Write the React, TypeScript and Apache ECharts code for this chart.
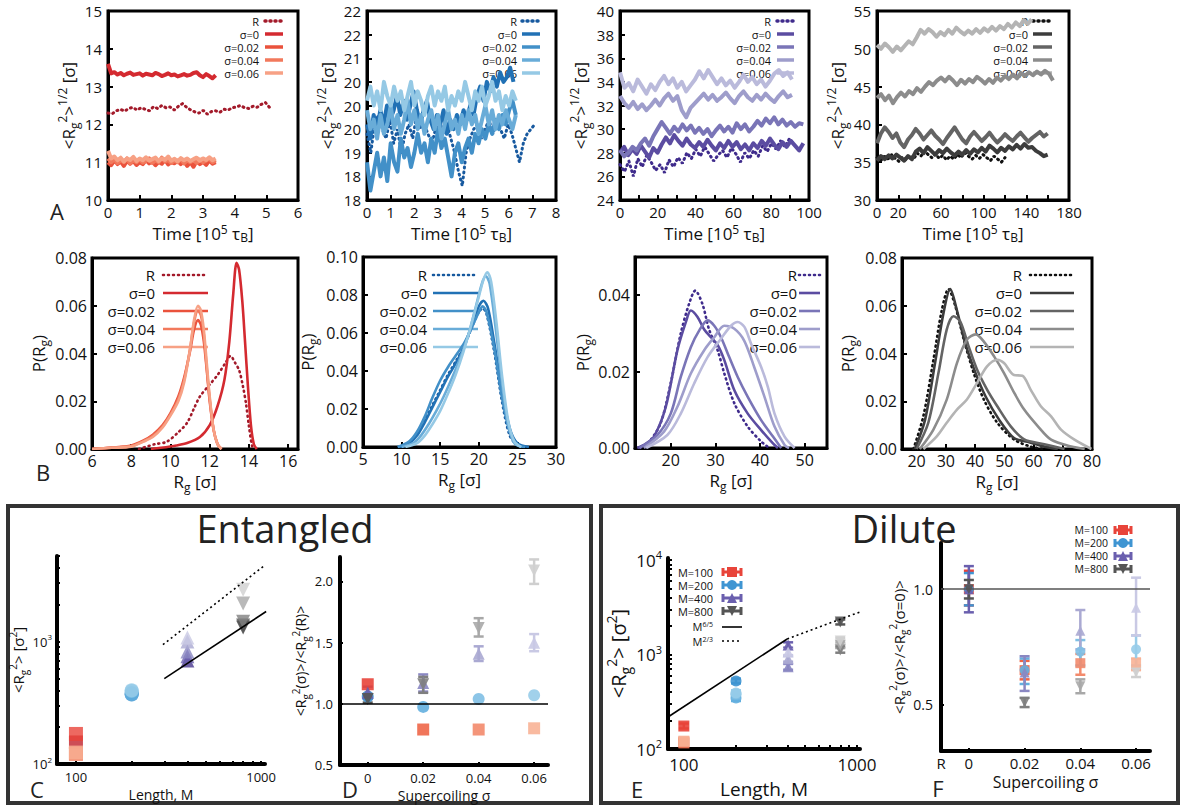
import React, { useEffect, useRef } from 'react';
import * as echarts from 'echarts';

const FONT = "'Open Sans', 'DejaVu Sans', sans-serif";
const TXT = '#111';

// ---------------- labels ----------------
const seriesLabels = ['R', 'σ=0', 'σ=0.02', 'σ=0.04', 'σ=0.06'];
const mLabels = ['M=100', 'M=200', 'M=400', 'M=800'];
const powerLabels = ['M{sup|6/5}', 'M{sup|2/3}'];

// ---------------- palettes ----------------
const redPal = ['#a31a2a', '#d42a30', '#ea523c', '#f2795c', '#f7a185'];
const bluePal = ['#17599f', '#2171b5', '#4290c8', '#69acd8', '#95c9e5'];
const purplePal = ['#3f2b8c', '#5b4ca1', '#7a75b7', '#9e9dcb', '#babadb'];
const grayPal = ['#111111', '#3c3c3c', '#646464', '#8c8c8c', '#b4b4b4'];
const cRed = ['#c0222c', '#e8443a', '#ee6648', '#f38a6c', '#f8b296'];
const cBlue = ['#2a7cc0', '#3f95d2', '#63afdf', '#7fbfe4', '#97cce9'];
const cPurple = ['#4a3890', '#6a5fae', '#8a87c2', '#aaa9d2', '#c9c9e4'];
const cGray = ['#3a3a3a', '#555555', '#7f7f7f', '#a8a8a8', '#cfcfcf'];

// ---------------- Row A : time series ----------------
const a1TEnd = [5.1, 3.4, 3.4, 3.4, 3.4];
const a1R = [12.3, 12.28, 12.36, 12.4, 12.35, 12.42, 12.45, 12.38, 12.44, 12.4, 12.36, 12.47, 12.42, 12.5, 12.44, 12.46, 12.38, 12.48, 12.55, 12.45, 12.38, 12.33, 12.3, 12.37, 12.27, 12.34, 12.36, 12.32, 12.4, 12.38, 12.44, 12.46, 12.5, 12.44, 12.42, 12.48, 12.45, 12.53, 12.58, 12.45];
const a1S0 = [13.6, 13.35, 13.38, 13.32, 13.36, 13.3, 13.34, 13.37, 13.31, 13.33, 13.35, 13.29, 13.34, 13.32, 13.3, 13.36, 13.33, 13.28, 13.31, 13.35, 13.3, 13.32, 13.27, 13.3, 13.33, 13.29, 13.31, 13.36, 13.38, 13.3, 13.25, 13.33, 13.28, 13.22, 13.3];
const a1S2 = [11.0, 10.92, 11.05, 10.95, 11.02, 10.9, 11.04, 10.96, 11.03, 10.93, 11.0, 10.95, 11.06, 10.97, 11.02, 10.92, 11.01, 10.96, 11.07, 10.94, 11.0, 10.97, 11.04, 10.95, 11.02, 10.9, 11.0, 10.88, 11.03, 10.95, 11.01, 10.93, 11.05, 10.96, 11.0];
const a1S4 = [11.1, 11.0, 11.08, 10.98, 11.06, 11.0, 11.1, 10.97, 11.05, 11.0, 11.08, 10.99, 11.04, 11.1, 10.98, 11.05, 11.0, 11.12, 11.02, 11.06, 10.98, 11.04, 11.0, 11.09, 10.97, 11.05, 11.0, 11.06, 10.98, 11.07, 11.0, 11.04, 11.1, 11.0, 11.05];
const a1S6 = [11.3, 11.1, 11.15, 11.05, 11.12, 11.02, 11.1, 11.06, 11.14, 11.03, 11.1, 11.05, 11.13, 11.04, 11.08, 11.12, 11.03, 11.1, 11.06, 11.15, 11.04, 11.09, 11.02, 11.11, 11.05, 11.1, 11.03, 11.08, 11.12, 11.04, 11.1, 11.06, 11.13, 11.05, 11.1];

const a2TEnd = [7.1, 6.2, 6.3, 6.3, 6.3];
const a2R = [19.4, 19.0, 19.6, 19.8, 19.5, 19.3, 19.7, 19.2, 19.5, 19.0, 19.4, 19.6, 19.3, 19.8, 19.5, 19.6, 19.4, 19.2, 19.5, 19.7, 19.4, 19.6, 19.3, 19.0, 18.6, 18.3, 19.0, 19.3, 19.5, 19.6, 19.3, 19.5, 19.7, 19.4, 19.6, 19.5, 19.3, 19.6, 19.4, 19.1, 18.8, 19.2, 19.4, 19.5, 19.6];
const a2S0 = [19.6, 19.3, 19.8, 19.5, 19.9, 19.6, 20.0, 19.7, 19.9, 20.2, 19.8, 20.1, 19.7, 20.0, 20.3, 19.9, 19.6, 19.9, 20.1, 19.7, 19.5, 19.8, 19.6, 19.9, 19.4, 19.7, 19.5, 19.8, 19.6, 19.9, 19.7, 20.0, 19.8, 20.2, 20.4, 20.1, 20.5, 20.3, 20.6, 20.4, 20.7, 20.5, 20.6, 20.8, 20.5];
const a2S2 = [18.8, 18.2, 18.6, 19.0, 18.5, 18.9, 18.4, 19.2, 18.8, 18.6, 19.3, 18.9, 19.1, 18.7, 19.0, 19.4, 19.0, 19.2, 18.8, 19.3, 19.0, 19.5, 19.1, 19.3, 18.9, 18.5, 19.0, 19.2, 18.8, 19.1, 19.3, 19.0, 19.4, 19.2, 19.5, 19.3, 19.6, 19.4, 19.7, 19.5, 19.8, 19.6, 19.9, 20.1, 19.8];
const a2S4 = [19.9, 19.5, 19.7, 19.3, 19.8, 19.4, 19.6, 20.0, 19.5, 19.8, 19.4, 19.7, 20.1, 19.6, 19.9, 19.5, 19.8, 19.4, 19.7, 19.9, 19.5, 19.8, 19.3, 19.6, 19.9, 19.5, 19.7, 19.4, 19.8, 19.5, 19.9, 19.6, 19.8, 19.4, 19.7, 20.0, 19.6, 19.9, 19.5, 19.8, 19.6, 19.9, 19.7, 19.5, 19.8];
const a2S6 = [20.1, 20.4, 20.0, 20.3, 19.9, 20.5, 20.2, 20.0, 20.4, 20.1, 20.3, 19.9, 20.2, 20.5, 20.0, 20.3, 20.1, 19.8, 20.2, 20.4, 20.0, 20.3, 20.1, 20.4, 19.9, 20.2, 20.0, 20.3, 20.1, 20.5, 20.2, 19.9, 20.3, 20.1, 20.4, 20.0, 20.2, 20.5, 20.1, 20.3, 19.9, 20.2, 20.0, 20.3, 20.1];

const a3TEnd = [92, 97, 97, 91, 91];
const a3R = [27.0, 26.4, 27.3, 26.0, 27.5, 26.8, 27.8, 27.2, 26.5, 27.0, 26.3, 27.4, 26.8, 27.6, 27.1, 28.0, 27.5, 28.3, 27.7, 28.5, 27.9, 27.3, 27.8, 28.2, 27.6, 28.4, 27.9, 27.2, 28.0, 27.5, 28.2, 27.7, 28.6, 28.1, 28.8, 28.3, 29.0, 28.5, 29.2, 28.7];
const a3S0 = [28.0, 28.5, 27.8, 28.3, 27.9, 28.6, 28.1, 27.6, 28.4, 28.0, 28.7, 29.3, 28.8, 29.5, 29.0, 28.6, 29.2, 28.7, 28.4, 28.9, 28.5, 29.1, 28.6, 28.2, 28.8, 28.4, 29.0, 28.5, 28.9, 28.3, 28.7, 28.2, 28.8, 28.4, 29.0, 28.6, 29.2, 28.7, 28.3, 28.9, 28.5, 29.0, 28.6, 28.2, 28.8];
const a3S2 = [28.2, 27.7, 28.0, 28.5, 28.2, 28.8, 29.2, 28.6, 29.4, 30.0, 30.6, 30.1, 29.6, 30.2, 29.8, 30.4, 29.9, 30.3, 29.7, 30.1, 29.6, 30.0, 29.4, 29.9, 30.3, 29.8, 30.2, 29.7, 30.5, 30.0, 30.4, 29.8, 30.2, 30.7, 30.3, 30.9, 30.5, 31.0, 30.4, 30.8, 30.3, 30.6, 30.2, 30.5, 30.4];
const a3S4 = [32.8, 32.2, 31.8, 32.3, 31.7, 32.1, 31.6, 32.0, 32.5, 32.0, 32.6, 33.0, 32.4, 32.8, 31.6, 31.0, 31.8, 32.2, 32.6, 33.0, 32.5, 32.9, 32.4, 32.7, 33.1, 32.6, 32.2, 32.8, 33.2, 32.7, 32.4, 32.9, 32.5, 33.0, 32.6, 32.3, 32.8, 33.2, 32.7, 32.9];
const a3S6 = [34.8, 33.5, 33.9, 33.2, 34.2, 33.6, 33.0, 33.8, 33.3, 34.0, 34.5, 33.8, 34.3, 33.5, 34.0, 33.2, 33.7, 34.2, 34.9, 34.3, 35.0, 34.4, 33.8, 34.3, 33.7, 34.1, 33.5, 34.0, 34.6, 34.0, 34.4, 33.8, 34.2, 33.6, 34.1, 34.7, 35.0, 34.5, 34.8, 34.2];

const a4TEnd = [120, 160, 160, 165, 145];
const a4R = [35.6, 35.2, 35.8, 35.4, 36.0, 35.5, 35.1, 35.7, 35.3, 35.9, 35.4, 36.2, 35.8, 36.5, 36.0, 35.6, 36.1, 35.5, 35.9, 35.3, 35.8, 35.4, 36.0, 35.6, 36.3, 35.8, 35.4, 35.9, 35.5, 36.0, 35.6, 35.2, 35.8, 35.4, 35.0, 35.6];
const a4S0 = [35.2, 35.8, 35.4, 35.9, 35.5, 36.0, 35.6, 35.2, 35.8, 35.4, 36.4, 36.8, 36.2, 37.0, 36.5, 36.0, 36.6, 36.2, 36.8, 36.3, 35.9, 36.4, 36.0, 36.6, 36.1, 36.7, 36.3, 36.9, 36.4, 37.2, 36.8, 36.3, 36.9, 36.5, 37.1, 36.7, 37.3, 36.8, 37.4, 36.9, 37.0, 36.5, 36.2, 35.8, 36.0];
const a4S2 = [37.5, 38.8, 39.6, 39.0, 38.2, 38.8, 37.6, 37.0, 38.0, 38.6, 39.4, 38.8, 38.0, 38.6, 39.2, 38.5, 38.0, 37.4, 38.2, 38.9, 39.6, 38.8, 38.0, 37.5, 38.4, 39.0, 38.4, 37.8, 38.3, 38.9, 38.2, 37.6, 38.1, 38.7, 38.2, 37.8, 38.4, 38.9, 38.3, 37.7, 38.2, 38.6, 39.0, 38.4, 38.8];
const a4S4 = [43.5, 44.0, 43.2, 43.8, 42.8, 43.6, 44.2, 43.7, 44.4, 44.0, 44.8, 44.3, 45.0, 45.6, 45.2, 45.8, 46.2, 45.7, 46.3, 45.8, 45.2, 45.9, 45.4, 46.0, 45.6, 46.3, 45.9, 45.4, 46.0, 45.5, 46.2, 45.8, 46.4, 46.0, 46.6, 46.1, 46.8, 46.4, 46.9, 46.5, 47.0, 46.6, 47.1, 46.7, 45.8];
const a4S6 = [50.5, 50.0, 50.7, 50.2, 49.6, 50.3, 49.8, 50.4, 51.0, 50.6, 51.5, 52.5, 52.0, 52.6, 52.2, 51.6, 52.2, 51.8, 52.5, 52.0, 52.8, 52.3, 51.9, 52.4, 52.0, 52.6, 52.1, 52.7, 52.3, 52.9, 52.4, 53.0, 52.6, 53.3, 52.8, 53.5, 53.0, 53.8, 53.3, 53.9];

const a2YTickLabels = ['18', '18', '19', '20', '20', '20', '21', '22', '22'];
const a3XTickLabels = ['0', '', '20', '', '40', '', '60', '', '80', '', '100'];
const a4XTickLabels = ['0', '20', '', '60', '', '100', '', '140', '', '180'];

// ---------------- Row B : distributions ----------------
const b1R = [[8.4, 0], [9.2, 0.002], [9.8, 0.003], [10.4, 0.007], [10.85, 0.011], [11.2, 0.017], [11.5, 0.022], [12.0, 0.027], [12.4, 0.031], [12.8, 0.036], [13.06, 0.039], [13.3, 0.036], [13.5, 0.033], [13.7, 0.026], [13.85, 0.019], [14.0, 0.0095], [14.17, 0.001], [14.3, 0]];
const b1S0 = [[9.0, 0], [9.5, 0.0005], [10.3, 0.0015], [10.85, 0.0025], [11.5, 0.005], [12.0, 0.01], [12.4, 0.018], [12.75, 0.029], [13.0, 0.045], [13.2, 0.065], [13.37, 0.078], [13.5, 0.075], [13.66, 0.062], [13.8, 0.045], [13.95, 0.026], [14.1, 0.01], [14.25, 0.002], [14.4, 0]];
const b1S2 = [[6.0, 0], [7.0, 0.0006], [8.0, 0.0015], [8.6, 0.0035], [9.1, 0.006], [9.6, 0.01], [10.0, 0.015], [10.4, 0.022], [10.7, 0.03], [11.0, 0.041], [11.2, 0.05], [11.4, 0.054], [11.55, 0.052], [11.7, 0.045], [11.85, 0.033], [12.0, 0.02], [12.2, 0.008], [12.4, 0.002], [12.6, 0]];
const b1S4 = [[6.0, 0], [7.0, 0.0005], [8.0, 0.0012], [8.6, 0.0032], [9.1, 0.0055], [9.6, 0.0095], [10.0, 0.0145], [10.4, 0.021], [10.7, 0.029], [11.0, 0.042], [11.2, 0.053], [11.4, 0.058], [11.55, 0.056], [11.7, 0.048], [11.85, 0.034], [12.0, 0.021], [12.2, 0.008], [12.4, 0.002], [12.6, 0]];
const b1S6 = [[6.0, 0], [7.0, 0.0005], [8.0, 0.001], [8.6, 0.003], [9.1, 0.005], [9.6, 0.009], [10.0, 0.014], [10.4, 0.02], [10.7, 0.028], [11.0, 0.042], [11.2, 0.054], [11.4, 0.06], [11.55, 0.058], [11.7, 0.05], [11.85, 0.036], [12.0, 0.022], [12.2, 0.008], [12.4, 0.002], [12.6, 0]];

const b2R = [[10, 0], [11, 0.002], [12, 0.007], [13, 0.014], [14, 0.022], [15, 0.03], [16, 0.038], [17, 0.045], [18, 0.052], [19, 0.062], [20, 0.071], [20.5, 0.073], [21, 0.07], [22, 0.05], [23, 0.024], [24, 0.006], [25, 0.001], [26, 0]];
const b2S0 = [[9.5, 0], [11, 0.002], [12, 0.006], [13, 0.013], [14, 0.021], [15, 0.029], [16, 0.037], [17, 0.044], [18, 0.052], [19, 0.063], [20, 0.074], [20.6, 0.077], [21.2, 0.073], [22, 0.055], [23, 0.03], [24, 0.01], [25, 0.002], [26.5, 0]];
const b2S2 = [[9.5, 0], [11, 0.003], [12, 0.008], [13, 0.016], [14, 0.026], [15, 0.035], [16, 0.042], [17, 0.048], [18, 0.054], [19, 0.062], [20, 0.071], [20.5, 0.074], [21, 0.071], [22, 0.052], [23, 0.026], [24, 0.008], [25, 0.001], [26, 0]];
const b2S4 = [[10, 0], [11.5, 0.002], [12.5, 0.006], [13.5, 0.012], [14.5, 0.019], [15.5, 0.027], [16.5, 0.036], [17.5, 0.046], [18.5, 0.057], [19.5, 0.072], [20.4, 0.086], [20.9, 0.09], [21.4, 0.086], [22.2, 0.062], [23, 0.034], [23.8, 0.012], [24.6, 0.002], [25.5, 0]];
const b2S6 = [[10.5, 0], [12, 0.002], [13, 0.006], [14, 0.012], [15, 0.019], [16, 0.028], [17, 0.038], [18, 0.05], [19, 0.064], [20, 0.079], [20.6, 0.088], [21.1, 0.092], [21.6, 0.087], [22.3, 0.065], [23, 0.038], [23.8, 0.014], [24.6, 0.003], [25.5, 0]];

const b3R = [[13, 0], [14.75, 0.001], [17.7, 0.0064], [20, 0.017], [22.25, 0.03], [24.1, 0.0377], [25.5, 0.0412], [27.1, 0.0377], [28.6, 0.031], [30.5, 0.0256], [32, 0.0195], [34.25, 0.0117], [37.25, 0.0056], [40.25, 0.0017], [42.1, 0]];
const b3S0 = [[12.5, 0], [14, 0.0008], [16.25, 0.003], [18.9, 0.0108], [21.5, 0.0256], [23.4, 0.033], [24.5, 0.036], [26, 0.0343], [27.5, 0.031], [29, 0.029], [30.5, 0.027], [32, 0.023], [34.25, 0.0151], [37.25, 0.009], [40.25, 0.0047], [42.9, 0.0012], [44, 0]];
const b3S2 = [[13, 0], [17, 0.0034], [20, 0.009], [22.25, 0.0186], [24.5, 0.0264], [26.4, 0.0308], [28.25, 0.0334], [29.75, 0.032], [31.25, 0.029], [33.1, 0.0238], [35, 0.0186], [37.25, 0.0134], [40.25, 0.0073], [42.9, 0.003], [44.75, 0]];
const b3S4 = [[14, 0], [18.5, 0.0043], [21.5, 0.0108], [24.5, 0.0195], [27.5, 0.0256], [29.75, 0.029], [32, 0.032], [34.25, 0.0312], [36.5, 0.028], [38.75, 0.021], [41, 0.0134], [43.25, 0.0056], [45.5, 0.0008], [46.5, 0]];
const b3S6 = [[14.5, 0], [19.25, 0.0034], [22.25, 0.009], [25.25, 0.0169], [28.25, 0.0238], [31.25, 0.0286], [33.5, 0.032], [35, 0.033], [36.5, 0.0317], [38, 0.0273], [40.25, 0.0212], [41.75, 0.016], [43.25, 0.009], [45.5, 0.003], [47.75, 0]];

const b4R = [[18.9, 0], [22.3, 0.0137], [25.7, 0.037], [28.6, 0.058], [30.9, 0.067], [33.2, 0.06], [36.1, 0.046], [39.5, 0.032], [43, 0.0207], [47.6, 0.011], [53.3, 0.004], [59, 0.001], [63.7, 0]];
const b4S0 = [[19.4, 0], [22.9, 0.0123], [26.3, 0.036], [29.2, 0.057], [31.5, 0.067], [33.8, 0.058], [36.7, 0.044], [40.1, 0.032], [43.6, 0.022], [48.2, 0.0123], [53.3, 0.0046], [58, 0.003], [63.7, 0.001], [68.3, 0]];
const b4S2 = [[20, 0], [24, 0.011], [27.5, 0.032], [30.3, 0.05], [32.6, 0.0556], [34.9, 0.0535], [37.8, 0.043], [40.7, 0.0332], [44.1, 0.0249], [47.6, 0.0179], [52.2, 0.0095], [56.8, 0.004], [63.7, 0.002], [70.6, 0]];
const b4S4 = [[21.1, 0], [25.7, 0.008], [30.3, 0.0207], [33.8, 0.036], [37.2, 0.0458], [40.2, 0.048], [43, 0.045], [46.5, 0.0388], [49.9, 0.0318], [53.4, 0.0235], [56.8, 0.0165], [61.5, 0.0095], [66, 0.0039], [72.9, 0.001], [77.5, 0]];
const b4S6 = [[22.3, 0], [26.9, 0.0053], [30.3, 0.011], [33.8, 0.0165], [37.2, 0.0207], [40.7, 0.0277], [44.1, 0.0346], [47.6, 0.0374], [49.9, 0.036], [53.3, 0.031], [56.2, 0.0307], [59, 0.0249], [62.5, 0.0179], [66, 0.0137], [69.4, 0.0081], [74, 0.0039], [79.8, 0]];

// ---------------- C : entangled, <Rg^2> vs M ----------------
const cM = [100, 200, 400, 800];
const cM100 = [150, 176, 122, 121, 124];
const cM200 = [372, 380, 370, 395, 400];
const cM400 = [700, 760, 830, 1000, 1080];
const cM800 = [1300, 1350, 1450, 2050, 2650];
const cSolid = [[300, 498], [1065, 1760]];
const cDotted = [[295, 944], [1030, 4120]];

// ---------------- D : entangled ratio vs sigma ----------------
const sigmaVals = [0, 0.02, 0.04, 0.06];
const dM100 = [1.16, 0.79, 0.79, 0.8];
const dM200 = [1.06, 0.975, 1.04, 1.07];
const dM400 = [1.09, 1.17, 1.41, 1.5];
const dM800 = [1.04, 1.16, 1.62, 2.09];
const dM400Err = [[1.04, 1.14], [1.1, 1.24], [1.35, 1.47], [1.43, 1.57]];
const dM800Err = [[1.01, 1.08], [1.09, 1.22], [1.55, 1.7], [1.98, 2.18]];
const dRefLevel = 1.0;

// ---------------- E : dilute, <Rg^2> vs M ----------------
const eM100 = [175, 116, 119, 121];
const eM200 = [525, 346, 380, 392];
const eM400 = [1260, 740, 900, 1060];
const eM800 = [2210, 1117, 1250, 1390];
const eM100Err = [[165, 186], [108, 124], [112, 127], [113, 129]];
const eM200Err = [[495, 556], [322, 370], [355, 405], [366, 418]];
const eM400Err = [[1180, 1345], [690, 795], [840, 965], [985, 1140]];
const eM800Err = [[2080, 2345], [1045, 1195], [1170, 1335], [1300, 1485]];
const eSolid = [[81, 218], [395, 1460]];
const eDotted = [[395, 1460], [1040, 2820]];

// ---------------- F : dilute ratio vs sigma ----------------
const fM100 = [1.0, 0.65, 0.68, 0.68];
const fM200 = [1.0, 0.65, 0.73, 0.74];
const fM400 = [1.0, 0.64, 0.82, 0.92];
const fM800 = [1.0, 0.51, 0.58, 0.64];
const fM100Err = [[0.93, 1.08], [0.61, 0.69], [0.63, 0.72], [0.65, 0.7]];
const fM200Err = [[0.93, 1.07], [0.59, 0.7], [0.67, 0.78], [0.67, 0.8]];
const fM400Err = [[0.9, 1.1], [0.56, 0.71], [0.74, 0.91], [0.8, 1.05]];
const fM800Err = [[0.96, 1.04], [0.49, 0.53], [0.55, 0.61], [0.62, 0.66]];
const fRefLevel = 1.0;

// ---------------- helpers ----------------
const tsSeries = (vals: number[], tEnd: number) => vals.map((v, i) => [(i * tEnd) / (vals.length - 1), v]);

function richFor(fs: number) {
  const s = Math.round(fs * 0.68);
  return {
    sub: { fontSize: s, lineHeight: s, verticalAlign: 'bottom', fontFamily: FONT, color: TXT },
    sup: { fontSize: s, lineHeight: s, verticalAlign: 'top', fontFamily: FONT, color: TXT },
  };
}
function nameStyle(fs: number, lhFactor?: number) {
  return { color: TXT, fontSize: fs, fontFamily: FONT, lineHeight: Math.round(fs * (lhFactor || 1.4)), rich: richFor(fs) };
}

function mkAxis(gi: number, o: any) {
  return {
    gridIndex: gi,
    type: o.type || 'value',
    logBase: 10,
    min: o.min,
    max: o.max,
    interval: o.interval,
    name: o.name,
    nameLocation: 'middle',
    nameGap: o.nameGap,
    nameTextStyle: nameStyle(o.nfs, o.nlh),
    axisLine: { show: true, onZero: false, lineStyle: { color: '#000', width: o.lw || 3 } },
    axisTick: {
      show: true,
      inside: true,
      length: o.tl || 5,
      lineStyle: { color: '#000', width: 2 },
      customValues: o.tickValues,
    },
    minorTick: { show: false },
    axisLabel: {
      show: true,
      color: TXT,
      fontSize: o.fs,
      fontFamily: FONT,
      margin: o.margin,
      formatter: o.fmt,
      customValues: o.labelValues,
      showMaxLabel: o.showMax,
      showMinLabel: o.showMin,
      lineHeight: o.labelLH,
      rich: o.rich,
    },
    splitLine: { show: false },
  };
}

function errorSeries(xi: number, data: number[][], colors: string[], capW: number, lw: number) {
  return {
    type: 'custom',
    xAxisIndex: xi,
    yAxisIndex: xi,
    data,
    encode: { x: 0, y: [1, 2] },
    silent: true,
    z: 3,
    renderItem: (params: any, api: any) => {
      const x = api.value(0);
      const p1 = api.coord([x, api.value(1)]);
      const p2 = api.coord([x, api.value(2)]);
      const st = { stroke: colors[params.dataIndex], lineWidth: lw };
      return {
        type: 'group',
        children: [
          { type: 'line', shape: { x1: p1[0], y1: p1[1], x2: p2[0], y2: p2[1] }, style: st },
          { type: 'line', shape: { x1: p1[0] - capW, y1: p1[1], x2: p1[0] + capW, y2: p1[1] }, style: st },
          { type: 'line', shape: { x1: p2[0] - capW, y1: p2[1], x2: p2[0] + capW, y2: p2[1] }, style: st },
        ],
      };
    },
  };
}

function legendBlock(xr: number, ys: number[], x1: number, x2: number, labels: string[], colors: string[], fs: number, lw: number) {
  const els: any[] = [];
  labels.forEach((lab, i) => {
    els.push({
      type: 'text',
      x: xr,
      y: ys[i],
      z: 1,
      style: { text: lab, fill: TXT, fontSize: fs, fontFamily: FONT, align: 'right', verticalAlign: 'middle' },
    });
    els.push({
      type: 'line',
      z: 1,
      shape: { x1, y1: ys[i], x2, y2: ys[i] },
      style: i === 0
        ? { stroke: colors[i], lineWidth: lw, lineDash: [1, 4], lineCap: 'round' }
        : { stroke: colors[i], lineWidth: lw },
    });
  });
  return els;
}

function markerEl(kind: string, cx: number, cy: number, r: number, color: string) {
  if (kind === 'rect') return { type: 'rect', shape: { x: cx - r, y: cy - r, width: 2 * r, height: 2 * r }, style: { fill: color } };
  if (kind === 'circle') return { type: 'circle', shape: { cx, cy, r }, style: { fill: color } };
  if (kind === 'up') return { type: 'polygon', shape: { points: [[cx, cy - r], [cx + r, cy + r], [cx - r, cy + r]] }, style: { fill: color } };
  return { type: 'polygon', shape: { points: [[cx - r, cy - r], [cx + r, cy - r], [cx, cy + r]] }, style: { fill: color } };
}

function errLegend(xr: number, ys: number[], cx: number, half: number, fs: number, colors: string[], kinds: string[]) {
  const els: any[] = [];
  mLabels.forEach((lab, i) => {
    const y = ys[i];
    els.push({ type: 'text', x: xr, y, style: { text: lab, fill: TXT, fontSize: fs, fontFamily: FONT, align: 'right', verticalAlign: 'middle' } });
    const st = { stroke: colors[i], lineWidth: 3 };
    els.push({ type: 'line', shape: { x1: cx - half, y1: y, x2: cx + half, y2: y }, style: st });
    els.push({ type: 'line', shape: { x1: cx - half, y1: y - 4, x2: cx - half, y2: y + 4 }, style: st });
    els.push({ type: 'line', shape: { x1: cx + half, y1: y - 4, x2: cx + half, y2: y + 4 }, style: st });
    els.push(markerEl(kinds[i], cx, y, 5, colors[i]));
  });
  return els;
}

function buildOption() {
  const grids = [
    { left: 108, top: 11, width: 190, height: 189 },
    { left: 367, top: 11, width: 189, height: 189 },
    { left: 620, top: 11, width: 189, height: 189 },
    { left: 877, top: 11, width: 192, height: 189 },
    { left: 92, top: 258, width: 206, height: 191 },
    { left: 363, top: 257, width: 193, height: 190 },
    { left: 635, top: 257, width: 192, height: 191 },
    { left: 902, top: 258, width: 190, height: 191 },
    { left: 57, top: 556, width: 208, height: 208 },
    { left: 340, top: 557, width: 208, height: 208 },
    { left: 668, top: 558, width: 192, height: 191 },
    { left: 941, top: 543, width: 209, height: 208 },
  ].map((g, i) => ({
    ...g,
    containLabel: false,
    outerBoundsMode: 'none',
    show: i < 8,
    borderColor: '#000',
    borderWidth: 3,
    backgroundColor: 'transparent',
  }));

  const timeName = 'Time [10{sup|5} τ{sub|B}]';
  const aYName = '<R{sub|g}{sup|2}>{sup|1/2} [σ]';
  const rgName = 'R{sub|g} [σ]';
  const pName = 'P(R{sub|g})';
  const fix2 = (v: number) => v.toFixed(2);
  const plain = (v: number) => String(Math.round(v));

  const xAxes: any[] = [
    mkAxis(0, { min: 0, max: 6, interval: 1, fs: 15, margin: 4, labelLH: 15, name: timeName, nfs: 17, nlh: 1.2, nameGap: 23 }),
    mkAxis(1, { min: 0, max: 8, interval: 1, fs: 15, margin: 4, labelLH: 15, name: timeName, nfs: 17, nlh: 1.2, nameGap: 23 }),
    mkAxis(2, { min: 0, max: 100, interval: 10, fs: 15, margin: 4, labelLH: 15, name: timeName, nfs: 17, nlh: 1.2, nameGap: 23, fmt: (v: number) => a3XTickLabels[Math.round(v / 10)] }),
    mkAxis(3, { min: 0, max: 180, interval: 20, fs: 15, margin: 4, labelLH: 15, name: timeName, nfs: 17, nlh: 1.2, nameGap: 23, fmt: (v: number) => a4XTickLabels[Math.round(v / 20)] }),
    mkAxis(4, { min: 6, max: 16.5, interval: 2, fs: 16, margin: 4, name: rgName, nfs: 17, nameGap: 16, showMax: false }),
    mkAxis(5, { min: 5, max: 30, interval: 5, fs: 16, margin: 4, name: rgName, nfs: 17, nameGap: 16 }),
    mkAxis(6, { min: 12, max: 55, fs: 16, margin: 4, name: rgName, nfs: 17, nameGap: 16, labelValues: [20, 30, 40, 50], tickValues: [20, 30, 40, 50] }),
    mkAxis(7, { min: 15, max: 80, fs: 16, margin: 4, name: rgName, nfs: 17, nameGap: 16, labelValues: [20, 30, 40, 50, 60, 70, 80], tickValues: [20, 30, 40, 50, 60, 70, 80] }),
    mkAxis(8, { type: 'log', min: 79, max: 1050, fs: 13, margin: 6, lw: 4, name: 'Length, M', nfs: 14, nameGap: 20, labelValues: [100, 1000], tickValues: [100, 200, 300, 400, 500, 600, 700, 800, 900, 1000], fmt: plain, tl: 3 }),
    mkAxis(9, { min: -0.01, max: 0.065, fs: 13, margin: 6, lw: 4, name: 'Supercoiling σ', nfs: 14, nameGap: 20, labelValues: sigmaVals, tickValues: sigmaVals, fmt: (v: number) => (Math.abs(v) < 1e-9 ? '0' : v.toFixed(2)), tl: 3 }),
    mkAxis(10, { type: 'log', min: 81, max: 1040, fs: 17, margin: 7, lw: 4, name: 'Length, M', nfs: 19, nameGap: 26, labelValues: [100, 1000], tickValues: [100, 200, 300, 400, 500, 600, 700, 800, 900, 1000], fmt: plain, tl: 4 }),
    mkAxis(11, { min: -0.01, max: 0.065, fs: 15, margin: 4, lw: 4, name: 'Supercoiling σ', nfs: 16, nameGap: 19, labelValues: [-0.01, 0, 0.02, 0.04, 0.06], tickValues: sigmaVals, fmt: (v: number) => (v < -1e-9 ? 'R' : Math.abs(v) < 1e-9 ? '0' : v.toFixed(2)), tl: 3 }),
  ];

  const expRich = (fs: number) => ({ sup: { fontSize: Math.round(fs * 0.65), lineHeight: Math.round(fs * 0.65), verticalAlign: 'top', fontFamily: FONT, color: TXT } });
  const expFmt = (v: number) => '10{sup|' + Math.round(Math.log10(v)) + '}';

  const yAxes: any[] = [
    mkAxis(0, { min: 10, max: 15, interval: 1, fs: 15, margin: 6, name: aYName, nfs: 17, nameGap: 21 }),
    mkAxis(1, { min: 18, max: 22, interval: 0.5, fs: 15, margin: 6, name: aYName, nfs: 17, nameGap: 21, fmt: (v: number) => a2YTickLabels[Math.round((v - 18) / 0.5)] }),
    mkAxis(2, { min: 24, max: 40, interval: 2, fs: 15, margin: 6, name: aYName, nfs: 17, nameGap: 21 }),
    mkAxis(3, { min: 30, max: 55, interval: 5, fs: 15, margin: 6, name: aYName, nfs: 17, nameGap: 21 }),
    mkAxis(4, { min: 0, max: 0.08, interval: 0.02, fs: 16, margin: 5, name: pName, nfs: 17, nameGap: 42, fmt: fix2 }),
    mkAxis(5, { min: 0, max: 0.1, interval: 0.02, fs: 16, margin: 5, name: pName, nfs: 17, nameGap: 44, fmt: fix2 }),
    mkAxis(6, { min: 0, max: 0.05, interval: 0.02, fs: 16, margin: 5, name: pName, nfs: 17, nameGap: 38, fmt: fix2, showMax: false }),
    mkAxis(7, { min: 0, max: 0.08, interval: 0.02, fs: 16, margin: 5, name: pName, nfs: 17, nameGap: 43, fmt: fix2 }),
    mkAxis(8, { type: 'log', min: 100, max: 5000, fs: 13, margin: 5, lw: 4, name: '<R{sub|g}{sup|2}> [σ{sup|2}]', nfs: 15, nameGap: 20, labelValues: [100, 1000], tickValues: [100, 200, 300, 400, 500, 600, 700, 800, 900, 1000, 2000, 3000, 4000, 5000], fmt: expFmt, rich: expRich(13), labelLH: 18, tl: 3 }),
    mkAxis(9, { min: 0.5, max: 2.2, interval: 0.5, fs: 13, margin: 7, lw: 4, name: '<R{sub|g}{sup|2}(σ)>/<R{sub|g}{sup|2}(R)>', nfs: 14, nameGap: 26, fmt: (v: number) => v.toFixed(1), showMax: false, tl: 3 }),
    mkAxis(10, { type: 'log', min: 100, max: 10500, fs: 17, margin: 6, lw: 4, name: '<R{sub|g}{sup|2}> [σ{sup|2}]', nfs: 20, nameGap: 26, labelValues: [100, 1000, 10000], tickValues: [100, 200, 300, 400, 500, 600, 700, 800, 900, 1000, 2000, 3000, 4000, 5000, 6000, 7000, 8000, 9000, 10000], fmt: expFmt, rich: expRich(17), labelLH: 22, tl: 4 }),
    mkAxis(11, { min: 0.3, max: 1.2, fs: 14, margin: 8, lw: 4, name: '<R{sub|g}{sup|2}(σ)>/<R{sub|g}{sup|2}(σ=0)>', nfs: 15, nameGap: 30, labelValues: [0.5, 1.0], tickValues: [0.5, 1.0], fmt: (v: number) => v.toFixed(1), tl: 3 }),
  ];

  const series: any[] = [];

  // Row A
  const aPanels = [
    { data: [a1R, a1S0, a1S2, a1S4, a1S6], tEnd: a1TEnd, pal: redPal },
    { data: [a2R, a2S0, a2S2, a2S4, a2S6], tEnd: a2TEnd, pal: bluePal },
    { data: [a3R, a3S0, a3S2, a3S4, a3S6], tEnd: a3TEnd, pal: purplePal },
    { data: [a4R, a4S0, a4S2, a4S4, a4S6], tEnd: a4TEnd, pal: grayPal },
  ];
  aPanels.forEach((p, k) => {
    p.data.forEach((vals, j) => {
      series.push({
        type: 'line',
        xAxisIndex: k,
        yAxisIndex: k,
        data: tsSeries(vals, p.tEnd[j]),
        symbol: 'none',
        z: 2 + j,
        lineStyle: j === 0
          ? { color: p.pal[j], width: 3, type: [1, 4], cap: 'round' }
          : { color: p.pal[j], width: 4, type: 'solid', join: 'round' },
      });
    });
  });

  // Row B
  const bPanels = [
    { data: [b1R, b1S0, b1S2, b1S4, b1S6], pal: redPal },
    { data: [b2R, b2S0, b2S2, b2S4, b2S6], pal: bluePal },
    { data: [b3R, b3S0, b3S2, b3S4, b3S6], pal: purplePal },
    { data: [b4R, b4S0, b4S2, b4S4, b4S6], pal: grayPal },
  ];
  bPanels.forEach((p, k) => {
    p.data.forEach((vals, j) => {
      series.push({
        type: 'line',
        xAxisIndex: 4 + k,
        yAxisIndex: 4 + k,
        data: vals,
        symbol: 'none',
        smooth: 0.3,
        z: 2 + j,
        lineStyle: j === 0
          ? { color: p.pal[j], width: 2.6, type: [1, 4], cap: 'round' }
          : { color: p.pal[j], width: 2.6, type: 'solid' },
      });
    });
  });

  // C
  const cSets = [
    { vals: cM100, pal: cRed, sym: 'rect', rot: 0 },
    { vals: cM200, pal: cBlue, sym: 'circle', rot: 0 },
    { vals: cM400, pal: cPurple, sym: 'triangle', rot: 0 },
    { vals: cM800, pal: cGray, sym: 'triangle', rot: 180 },
  ];
  cSets.forEach((s, k) => {
    series.push({
      type: 'scatter',
      xAxisIndex: 8,
      yAxisIndex: 8,
      symbol: s.sym,
      symbolRotate: s.rot,
      symbolSize: 14,
      z: 4,
      data: s.vals.map((v, i) => ({ value: [cM[k], v], itemStyle: { color: s.pal[i], opacity: 0.8 } })),
    });
  });
  series.push({ type: 'line', xAxisIndex: 8, yAxisIndex: 8, data: cSolid, symbol: 'none', lineStyle: { color: '#000', width: 1.6 }, z: 5 });
  series.push({ type: 'line', xAxisIndex: 8, yAxisIndex: 8, data: cDotted, symbol: 'none', lineStyle: { color: '#000', width: 1.6, type: [2, 3] }, z: 5 });

  // D
  const dSets = [
    { vals: dM100, err: null, pal: cRed.slice(1), sym: 'rect', rot: 0 },
    { vals: dM200, err: null, pal: cBlue.slice(1), sym: 'circle', rot: 0 },
    { vals: dM400, err: dM400Err, pal: cPurple.slice(1), sym: 'triangle', rot: 0 },
    { vals: dM800, err: dM800Err, pal: cGray.slice(1), sym: 'triangle', rot: 180 },
  ];
  dSets.forEach((s, k) => {
    if (s.err) {
      series.push(errorSeries(9, s.err.map((e, i) => [sigmaVals[i], e[0], e[1]]), s.pal, 5, 2.5));
    }
    series.push({
      type: 'scatter',
      xAxisIndex: 9,
      yAxisIndex: 9,
      symbol: s.sym,
      symbolRotate: s.rot,
      symbolSize: 12,
      z: 4,
      data: s.vals.map((v, i) => ({ value: [sigmaVals[i], v], itemStyle: { color: s.pal[i], opacity: 0.9 } })),
      markLine: k === 0
        ? { silent: true, symbol: 'none', label: { show: false }, lineStyle: { color: '#000', width: 1.5, type: 'solid' }, data: [{ yAxis: dRefLevel }] }
        : undefined,
    });
  });

  // E
  const eSets = [
    { vals: eM100, err: eM100Err, pal: cRed.slice(1), sym: 'rect', rot: 0 },
    { vals: eM200, err: eM200Err, pal: cBlue.slice(1), sym: 'circle', rot: 0 },
    { vals: eM400, err: eM400Err, pal: cPurple.slice(1), sym: 'triangle', rot: 0 },
    { vals: eM800, err: eM800Err, pal: cGray.slice(1), sym: 'triangle', rot: 180 },
  ];
  eSets.forEach((s, k) => {
    series.push(errorSeries(10, s.err.map((e) => [cM[k], e[0], e[1]]), s.pal, 5, 2.5));
    series.push({
      type: 'scatter',
      xAxisIndex: 10,
      yAxisIndex: 10,
      symbol: s.sym,
      symbolRotate: s.rot,
      symbolSize: 11,
      z: 4,
      data: s.vals.map((v, i) => ({ value: [cM[k], v], itemStyle: { color: s.pal[i], opacity: 0.9 } })),
    });
  });
  series.push({ type: 'line', xAxisIndex: 10, yAxisIndex: 10, data: eSolid, symbol: 'none', lineStyle: { color: '#000', width: 1.6 }, z: 5 });
  series.push({ type: 'line', xAxisIndex: 10, yAxisIndex: 10, data: eDotted, symbol: 'none', lineStyle: { color: '#000', width: 1.6, type: [2, 3] }, z: 5 });

  // F
  const fSets = [
    { vals: fM100, err: fM100Err, pal: cRed.slice(1), sym: 'rect', rot: 0 },
    { vals: fM200, err: fM200Err, pal: cBlue.slice(1), sym: 'circle', rot: 0 },
    { vals: fM400, err: fM400Err, pal: cPurple.slice(1), sym: 'triangle', rot: 0 },
    { vals: fM800, err: fM800Err, pal: cGray.slice(1), sym: 'triangle', rot: 180 },
  ];
  fSets.forEach((s, k) => {
    series.push(errorSeries(11, s.err.map((e, i) => [sigmaVals[i], e[0], e[1]]), s.pal, 5, 2.5));
    series.push({
      type: 'scatter',
      xAxisIndex: 11,
      yAxisIndex: 11,
      symbol: s.sym,
      symbolRotate: s.rot,
      symbolSize: 10,
      z: 4,
      data: s.vals.map((v, i) => ({ value: [sigmaVals[i], v], itemStyle: { color: s.pal[i], opacity: 0.9 } })),
      markLine: k === 0
        ? { silent: true, symbol: 'none', label: { show: false }, lineStyle: { color: '#555', width: 1.5, type: 'solid' }, data: [{ yAxis: fRefLevel }] }
        : undefined,
    });
  });

  // Graphics: boxes, titles, letters, legends
  const letter = (t: string, x: number, y: number) => ({
    type: 'text', x, y, style: { text: t, fill: '#222', fontSize: 22, fontFamily: FONT, align: 'center', verticalAlign: 'middle' },
  });
  const aRows = [21, 34, 47, 60, 73];
  const bRows = [275, 293, 311, 329, 347];
  const graphics: any[] = [
    { type: 'rect', shape: { x: 8, y: 506, width: 583, height: 297 }, style: { fill: 'none', stroke: '#333', lineWidth: 4 } },
    { type: 'rect', shape: { x: 601, y: 506, width: 577, height: 297 }, style: { fill: 'none', stroke: '#333', lineWidth: 4 } },
    { type: 'text', x: 285, y: 528, style: { text: 'Entangled', fill: '#222', fontSize: 38, fontFamily: FONT, align: 'center', verticalAlign: 'middle' } },
    { type: 'text', x: 904, y: 528, style: { text: 'Dilute', fill: '#222', fontSize: 38, fontFamily: FONT, align: 'center', verticalAlign: 'middle' } },
    letter('A', 57, 211),
    letter('B', 43, 472),
    letter('C', 37, 789),
    letter('D', 350, 789),
    letter('E', 637, 789),
    letter('F', 938, 788),
    ...legendBlock(259, aRows, 265, 283, seriesLabels, redPal, 11, 3.5),
    ...legendBlock(517, aRows, 522, 540, seriesLabels, bluePal, 11, 3.5),
    ...legendBlock(771, aRows, 777, 794, seriesLabels, purplePal, 11, 3.5),
    ...legendBlock(1028, aRows, 1033, 1052, seriesLabels, grayPal, 11, 3.5),
    ...legendBlock(155, bRows, 163, 208, seriesLabels, redPal, 15, 2.6),
    ...legendBlock(427, bRows, 433, 478, seriesLabels, bluePal, 15, 2.6),
    ...legendBlock(797, bRows, 799, 820, seriesLabels, purplePal, 15, 2.6),
    ...legendBlock(1022, bRows, 1030, 1074, seriesLabels, grayPal, 15, 2.6),
    ...errLegend(713, [572, 585, 598, 611], 732, 9, 11, [cRed[1], cBlue[1], cPurple[1], cGray[1]], ['rect', 'circle', 'up', 'down']),
    { type: 'text', x: 713, y: 626, style: { text: powerLabels[0], fill: TXT, fontSize: 11, fontFamily: FONT, align: 'right', verticalAlign: 'middle', rich: richFor(11) } },
    { type: 'line', shape: { x1: 722, y1: 627, x2: 742, y2: 627 }, style: { stroke: '#000', lineWidth: 1.6 } },
    { type: 'text', x: 713, y: 641, style: { text: powerLabels[1], fill: TXT, fontSize: 11, fontFamily: FONT, align: 'right', verticalAlign: 'middle', rich: richFor(11) } },
    { type: 'line', shape: { x1: 722, y1: 641, x2: 742, y2: 641 }, style: { stroke: '#000', lineWidth: 1.6, lineDash: [2, 3] } },
    ...errLegend(1108, [530, 543, 556, 569], 1123, 8, 10.5, [cRed[1], cBlue[1], cPurple[1], cGray[1]], ['rect', 'circle', 'up', 'down']),
  ];

  return {
    animation: false,
    backgroundColor: '#fff',
    textStyle: { fontFamily: FONT },
    grid: grids,
    xAxis: xAxes,
    yAxis: yAxes,
    series,
    graphic: graphics,
  };
}

export default function App() {
  const ref = useRef<HTMLDivElement>(null);
  useEffect(() => {
    document.body.style.margin = '0';
    const chart = echarts.init(ref.current as HTMLDivElement, null, { renderer: 'svg' });
    chart.setOption(buildOption() as any);
    return () => chart.dispose();
  }, []);
  return <div ref={ref} style={{ width: 1180, height: 808 }} />;
}
